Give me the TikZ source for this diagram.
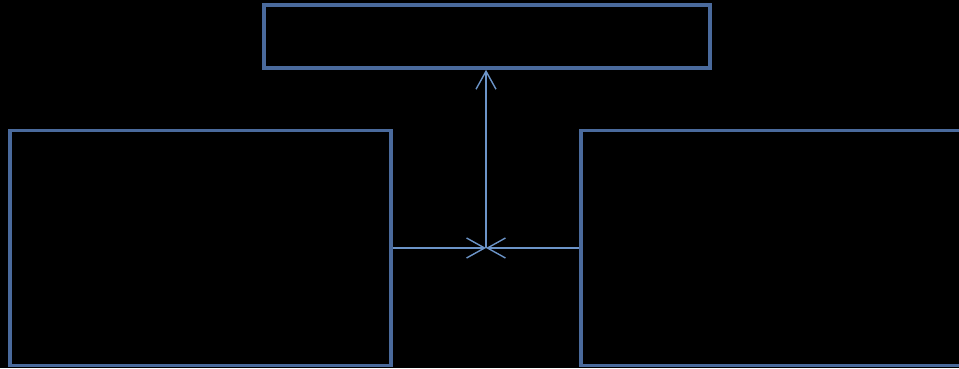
\documentclass[tikz,border=0pt]{standalone}
\usepackage{tikz}
\usetikzlibrary{arrows.meta}
\definecolor{boxblue}{HTML}{4A6A9C}
\definecolor{lineblue}{HTML}{6C94C8}
\tikzset{
  block/.style={draw=boxblue, line width=3.6pt, inner sep=0pt},
  link/.style={draw=lineblue, line width=1.5pt, -{Straight Barb[length=18pt, width=20pt, line width=1.4pt]}}
}
\begin{document}
\begin{tikzpicture}[x=1pt, y=1pt]
\fill[black] (0,0) rectangle (959,368);
\clip (0,0) rectangle (959,368);
\node[block, name=top, minimum width=446pt, minimum height=63pt] at (487,331.5) {};
\node[block, name=left, minimum width=381pt, minimum height=235pt] at (200.5,120) {};
\node[block, name=right, minimum width=440pt, minimum height=235pt] at (801,120) {};
\coordinate (join) at (486,120);

\draw(left.east) edge[link](join);
\draw(right.west) edge[link](join);
\draw(join) edge[link](join |- top.south);
\end{tikzpicture}
\end{document}
